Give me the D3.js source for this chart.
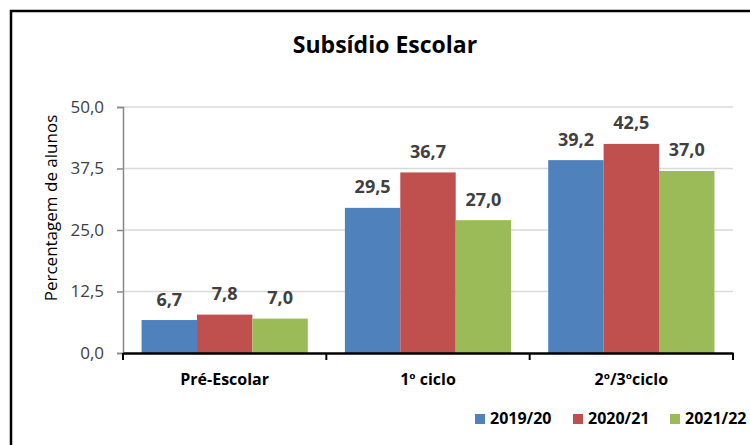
<!DOCTYPE html>
<html>
<head>
<meta charset="utf-8">
<script src="https://cdn.jsdelivr.net/npm/d3@7"></script>
<style>
  body { margin: 0; background: #fff; }
  svg { display: block; font-family: "Open Sans", "Noto Sans", sans-serif; }
</style>
</head>
<body>
<div class="container"></div>
<script>
const categories = ['Pré-Escolar', '1º ciclo', '2º/3ºciclo'];
const series = ['2019/20', '2020/21', '2021/22'];
const values2019 = [6.7, 29.5, 39.2];
const values2020 = [7.8, 36.7, 42.5];
const values2021 = [7.0, 27.0, 37.0];
const yTicks = [0, 12.5, 25, 37.5, 50];
const colors = ['#4F81BD', '#C0504D', '#9BBB59'];

const WIDTH = 750;
const HEIGHT = 445;
const PLOT = {left: 123, right: 733, top: 107, bottom: 353};

const allValues = [values2019, values2020, values2021];
const fmt = v => d3.format('.1f')(v).replace('.', ',');

var svg = d3.select('.container').append('svg')
    .attr('width', WIDTH)
    .attr('height', HEIGHT);

// outer border
svg.append('path')
    .attr('d', `M11,${HEIGHT} V11 H${WIDTH}`)
    .attr('fill', 'none')
    .attr('stroke', '#000')
    .attr('stroke-width', 2.5);

svg.append('text')
    .attr('x', 385).attr('y', 53)
    .attr('text-anchor', 'middle')
    .attr('font-size', 23).attr('font-weight', 'bold')
    .attr('fill', '#000')
    .text('Subsídio Escolar');

var xScale = d3.scaleBand()
    .domain(categories)
    .range([PLOT.left, PLOT.right]);

var xInner = d3.scaleBand()
    .domain(series)
    .range([0, xScale.bandwidth()])
    .paddingOuter(0.335)
    .paddingInner(0);

var yScale = d3.scaleLinear()
    .domain([0, 50])
    .range([PLOT.bottom, PLOT.top]);

// gridlines
svg.append('g').selectAll('line').data(yTicks.slice(1))
    .enter().append('line')
    .attr('x1', PLOT.left).attr('x2', PLOT.right)
    .attr('y1', d => yScale(d)).attr('y2', d => yScale(d))
    .attr('stroke', '#d9d9d9').attr('stroke-width', 1.5);

// y axis
var yAxis = d3.axisLeft(yScale).tickValues(yTicks).tickSize(6).tickPadding(13).tickFormat(fmt);
var gy = svg.append('g')
    .attr('transform', `translate(${PLOT.left}, 0)`)
    .call(yAxis);
gy.select('.domain').attr('stroke', '#888').attr('stroke-width', 1.5);
gy.selectAll('.tick line').attr('stroke', '#888').attr('stroke-width', 1.5);
gy.selectAll('.tick text')
    .attr('font-size', 17).attr('fill', '#404040')
    .attr('font-family', '"Open Sans", sans-serif');

svg.append('text')
    .attr('transform', `translate(57, 208) rotate(-90)`)
    .attr('text-anchor', 'middle')
    .attr('font-size', 17).attr('fill', '#000')
    .text('Percentagem de alunos');

// bars
var groups = svg.append('g').selectAll('g').data(categories)
    .enter().append('g')
    .attr('transform', c => `translate(${xScale(c)}, 0)`);

var cells = groups.selectAll('g').data((c, i) => series.map((s, j) => ({s: s, j: j, v: allValues[j][i]})))
    .enter().append('g');

cells.append('rect')
    .attr('x', d => xInner(d.s))
    .attr('width', xInner.bandwidth())
    .attr('y', d => yScale(d.v))
    .attr('height', d => PLOT.bottom - yScale(d.v))
    .attr('fill', d => colors[d.j]);

cells.append('text')
    .attr('x', d => xInner(d.s) + xInner.bandwidth() / 2)
    .attr('y', d => yScale(d.v) - 14.5)
    .attr('text-anchor', 'middle')
    .attr('font-size', 18).attr('font-weight', 'bold')
    .attr('fill', '#404040')
    .text(d => fmt(d.v));

// x axis
var xAxis = d3.axisBottom(xScale).tickSize(0).tickPadding(0);
var gx = svg.append('g')
    .attr('transform', `translate(0, ${PLOT.bottom})`)
    .call(xAxis);
gx.select('.domain').attr('stroke', '#000').attr('stroke-width', 2.5);
gx.selectAll('.tick text')
    .attr('y', 32)
    .attr('dy', 0)
    .attr('font-size', 16).attr('font-weight', 'bold')
    .attr('fill', '#000')
    .attr('font-family', '"Open Sans", sans-serif');
gx.selectAll('.sep').data(d3.range(categories.length + 1))
    .enter().append('line')
    .attr('x1', i => PLOT.left + i * xScale.step())
    .attr('x2', i => PLOT.left + i * xScale.step())
    .attr('y1', 0).attr('y2', 7)
    .attr('stroke', '#000').attr('stroke-width', 2);

// legend
var legendX = [475, 573, 670];
var legend = svg.append('g').selectAll('g').data(series)
    .enter().append('g')
    .attr('transform', (s, i) => `translate(${legendX[i]}, 424)`);
legend.append('rect')
    .attr('x', 0).attr('y', -10)
    .attr('width', 10).attr('height', 10)
    .attr('fill', (s, i) => colors[i]);
legend.append('text')
    .attr('x', 15).attr('y', 0)
    .attr('font-size', 16).attr('font-weight', 'bold')
    .attr('fill', '#000')
    .text(s => s);
</script>
</body>
</html>
